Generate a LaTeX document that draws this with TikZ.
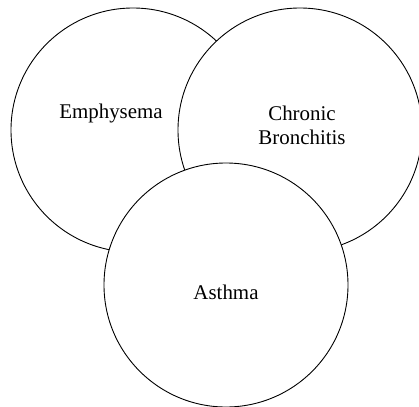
\documentclass[tikz,border=0pt]{standalone}
\usepackage{fontspec}
\setmainfont{Liberation Serif}
\begin{document}
\begin{tikzpicture}[x=1bp,y=-1bp,
  venn/.style={circle,draw=black,line width=0.9pt,fill=white,minimum size=244bp,inner sep=0pt},
  lbl/.style={font=\fontsize{21}{24}\selectfont,align=center,inner sep=0pt}]
\useasboundingbox (0,0) rectangle (419,407);
\node[venn] (emph) at (133,130) {};
\node[venn] (chron) at (300,130) {};
\node[venn] (asth) at (226,285) {};
\node[lbl] (temph) at (111,113) {Emphysema};
\node[lbl] (tchron) at (302,125) {Chronic\\Bronchitis};
\node[lbl] (tasth) at (226,292) {Asthma};
\end{tikzpicture}
\end{document}
